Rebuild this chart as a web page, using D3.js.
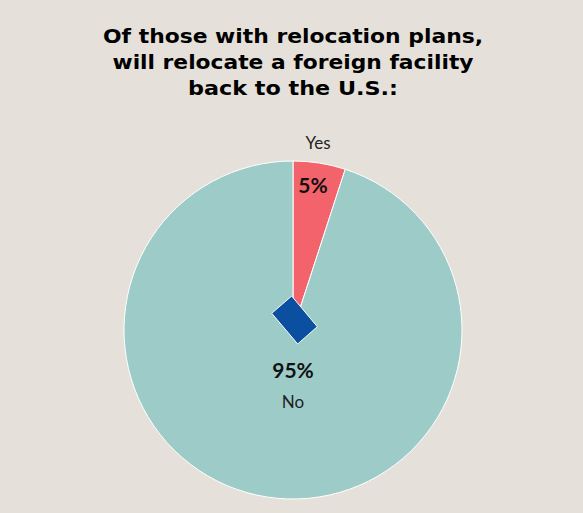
<!DOCTYPE html><html><head><script src="https://cdn.jsdelivr.net/npm/d3@7"></script>
<style>body{margin:0;background:#e5e1da}</style></head><body><script>
const categories=["Yes","No"];
const values=[5,95];
const valueLabels=["5%","95%"];
const colors=["#f2636c","#9ccbc8"];
const titleLines=["Of those with relocation plans,","will relocate a foreign facility","back to the U.S.:"];
const W=583,H=513,cx=293,cy=330,r=169;
const svg=d3.select("body").append("svg").attr("width",W).attr("height",H).style("font-family","Lato, 'DejaVu Sans', sans-serif");
svg.append("rect").attr("width",W).attr("height",H).attr("fill","#e5e1da");
svg.selectAll("text.t").data(titleLines).join("text").attr("x",293).attr("y",(d,i)=>43+i*26)
 .attr("text-anchor","middle").attr("font-size",20).attr("font-weight","bold").attr("font-family","'DejaVu Sans', sans-serif").attr("fill","#000")
 .attr("textLength",(d,i)=>[380,361,210][i]).attr("lengthAdjust","spacingAndGlyphs").text(d=>d);
const pie=d3.pie().sort(null)(values);
const arc=d3.arc().innerRadius(0).outerRadius(r);
const g=svg.append("g").attr("transform",`translate(${cx},${cy})`);
g.selectAll("path").data(pie).join("path").attr("d",arc).attr("fill",(d,i)=>colors[i]).attr("stroke","#fff").attr("stroke-width",1);
g.append("polygon").attr("points","-1.3,-34 24.3,-3.3 4.7,14 -21.3,-16.7").attr("fill","#0b50a0").attr("stroke","#fff").attr("stroke-width",1);
svg.append("text").attr("x",318).attr("y",149).attr("text-anchor","middle").attr("font-size",17).attr("fill","#222").text(categories[0]);
svg.append("text").attr("x",313).attr("y",193).attr("text-anchor","middle").attr("font-size",21).attr("font-weight","bold").attr("fill","#111").text(valueLabels[0]);
svg.append("text").attr("x",293).attr("y",378).attr("text-anchor","middle").attr("font-size",21).attr("font-weight","bold").attr("fill","#111").text(valueLabels[1]);
svg.append("text").attr("x",293).attr("y",408).attr("text-anchor","middle").attr("font-size",17).attr("fill","#222").text(categories[1]);
</script></body></html>
